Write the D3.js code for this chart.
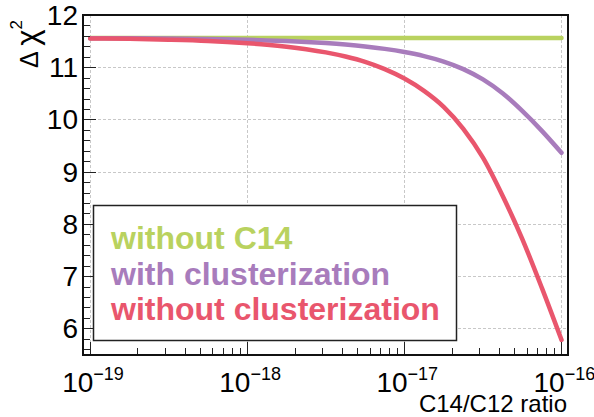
<!DOCTYPE html>
<html>
<head>
<meta charset="utf-8">
<script src="https://cdn.jsdelivr.net/npm/d3@7"></script>
<style>
  body { margin: 0; background: #fff; }
  text { font-family: "Liberation Sans", Arial, sans-serif; }
</style>
</head>
<body>
<svg id="chart" width="594" height="417"></svg>
<script>
// ratio exponents (log10 of C14/C12) where the curves were read
var logRatio = [-19, -18.75, -18.5, -18.25, -18, -17.875, -17.75, -17.625, -17.5, -17.375, -17.25, -17.125,
                -17, -16.875, -16.75, -16.625, -16.5, -16.375, -16.25, -16.125, -16];
var withoutC14 = [11.56, 11.56, 11.56, 11.56, 11.56, 11.56, 11.56, 11.56, 11.56, 11.56, 11.56, 11.56,
                  11.56, 11.56, 11.56, 11.56, 11.56, 11.56, 11.56, 11.56, 11.56];
var withClust = [11.556, 11.554, 11.549, 11.54, 11.525, 11.514, 11.501, 11.484, 11.462, 11.434, 11.398, 11.351,
                 11.291, 11.213, 11.108, 10.964, 10.766, 10.501, 10.164, 9.782, 9.362];
var withoutClust = [11.55, 11.543, 11.528, 11.504, 11.46, 11.431, 11.394, 11.346, 11.285, 11.205, 11.103, 10.964,
                    10.784, 10.548, 10.242, 9.822, 9.269, 8.54, 7.714, 6.774, 5.779];

var seriesNames = ["without C14", "with clusterization", "without clusterization"];
var seriesColors = ["#b9d25f", "#a87cbc", "#e9566d"];
var yTicks = [6, 7, 8, 9, 10, 11, 12];
var xDecades = [-19, -18, -17, -16];

(function() {
  var svg = d3.select("#chart");
  var pL = 83, pR = 568, pT = 15, pB = 355;

  var x = d3.scaleLog().domain([0.9e-19, 1.1e-16]).range([pL, pR]);
  var y = d3.scaleLinear().domain([5.49, 12]).range([pB, pT]);

  // grid
  var grid = svg.append("g").attr("stroke", "#c8c8c8").attr("stroke-width", 1).attr("stroke-dasharray", "3,2");
  xDecades.forEach(function(d) {
    var px = Math.round(x(Math.pow(10, d))) + 0.5;
    grid.append("line").attr("x1", px).attr("x2", px).attr("y1", pT).attr("y2", pB);
  });
  yTicks.forEach(function(d) {
    var py = Math.round(y(d)) + 0.5;
    if (d < 12) grid.append("line").attr("x1", pL).attr("x2", pR).attr("y1", py).attr("y2", py);
  });

  // curves
  var line = d3.line()
    .x(function(d) { return x(Math.pow(10, d[0])); })
    .y(function(d) { return y(d[1]); })
    .curve(d3.curveMonotoneX);

  [withoutC14, withClust, withoutClust].forEach(function(vals, i) {
    var pts = logRatio.map(function(l, j) { return [l, vals[j]]; });
    svg.append("path").datum(pts)
      .attr("d", line)
      .attr("fill", "none")
      .attr("stroke", seriesColors[i])
      .attr("stroke-width", 4.5)
      .attr("stroke-linecap", "round");
  });

  // ticks on left axis (inside)
  var tk = svg.append("g").attr("stroke", "#222").attr("stroke-width", 1);
  for (var v = 5.6; v <= 12.001; v += 0.2) {
    var isMajor = Math.abs(v - Math.round(v)) < 0.01;
    var py = Math.round(y(v)) + 0.5;
    tk.append("line").attr("x1", pL).attr("x2", pL + (isMajor ? 13 : 7)).attr("y1", py).attr("y2", py);
  }
  // ticks on bottom axis (inside)
  xDecades.forEach(function(d) {
    for (var m = 1; m <= 9; m++) {
      var val = m * Math.pow(10, d);
      if (val > 1.1e-16) break;
      var px = Math.round(x(val)) + 0.5;
      tk.append("line").attr("x1", px).attr("x2", px).attr("y1", pB).attr("y2", pB - (m === 1 ? 13 : 7));
    }
  });

  // frame
  svg.append("rect").attr("x", pL).attr("y", pT).attr("width", pR - pL).attr("height", pB - pT)
    .attr("fill", "none").attr("stroke", "#111").attr("stroke-width", 2);

  // y tick labels
  yTicks.forEach(function(d) {
    svg.append("text").attr("x", 78).attr("y", y(d) + 10)
      .attr("text-anchor", "end").attr("font-size", 28).attr("fill", "#000").text(d);
  });

  // x tick labels 10^n
  xDecades.forEach(function(d) {
    var t = svg.append("text").attr("x", x(Math.pow(10, d)) - 28).attr("y", 392)
      .attr("font-size", 28).attr("fill", "#000");
    t.append("tspan").text("10");
    t.append("tspan").attr("dy", -12).attr("font-size", 18).text("\u2212" + (-d));
  });

  // axis titles
  svg.append("text").attr("x", 567).attr("y", 412).attr("text-anchor", "end")
    .attr("font-size", 24).attr("fill", "#000").text("C14/C12 ratio");

  var yl = svg.append("text").attr("transform", "translate(38,68) rotate(-90)")
    .attr("fill", "#000");
  yl.append("tspan").attr("font-size", 25).text("\u0394 ");
  yl.append("tspan").attr("font-size", 31).text("\u03c7");
  yl.append("tspan").attr("dy", -16).attr("font-size", 17).text("2");

  // legend
  svg.append("rect").attr("x", 93.5).attr("y", 205.5).attr("width", 363).attr("height", 135)
    .attr("fill", "#fff").attr("stroke", "#222").attr("stroke-width", 1.5);
  seriesNames.forEach(function(n, i) {
    svg.append("text").attr("x", 111).attr("y", 249 + i * 35.5)
      .attr("font-size", 32).attr("font-weight", "bold").attr("fill", seriesColors[i]).text(n);
  });
})();
</script>
</body>
</html>
